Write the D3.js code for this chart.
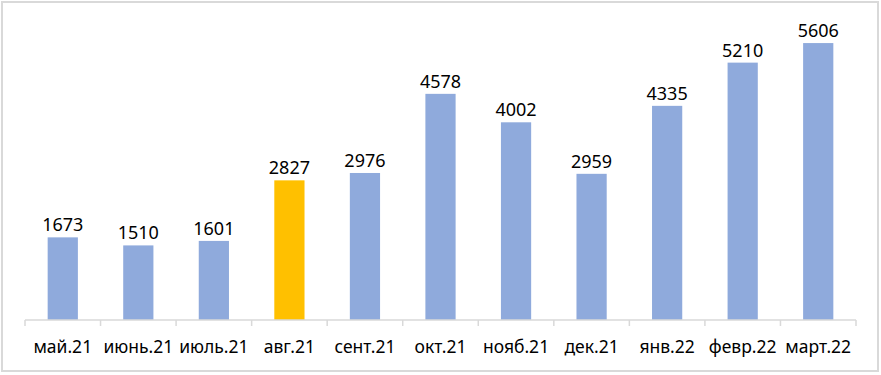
<!DOCTYPE html>
<html>
<head>
<meta charset="utf-8">
<script src="https://cdn.jsdelivr.net/npm/d3@7"></script>
<style>
  body { margin: 0; background: #fff; }
  svg text { font-family: "Noto Sans", "Open Sans", sans-serif; fill: #000; }
</style>
</head>
<body>
<script>
// Data
let months = ["май.21", "июнь.21", "июль.21", "авг.21", "сент.21", "окт.21",
              "нояб.21", "дек.21", "янв.22", "февр.22", "март.22"];
let values = [1673, 1510, 1601, 2827, 2976, 4578, 4002, 2959, 4335, 5210, 5606];
let highlight = ["авг.21"];

let W = 881, H = 375;
let svg = d3.select("body").append("svg")
            .attr("width", W)
            .attr("height", H);

// chart frame
svg.append("rect")
   .attr("x", 2).attr("y", 2)
   .attr("width", 876).attr("height", 369)
   .attr("fill", "#fff")
   .attr("stroke", "#d9d9d9")
   .attr("stroke-width", 2);

let left = 25, right = 856, base = 320;

let x = d3.scaleBand()
          .domain(months)
          .range([left, right])
          .paddingInner(0.6)
          .paddingOuter(0.3);

let y = d3.scaleLinear()
          .domain([0, 6000])
          .range([base, 23.6]);

// bars
svg.append("g")
   .selectAll("rect")
   .data(months)
   .enter()
   .append("rect")
   .attr("x", d => x(d))
   .attr("y", (d, i) => y(values[i]))
   .attr("width", x.bandwidth())
   .attr("height", (d, i) => base - y(values[i]))
   .attr("fill", d => highlight.includes(d) ? "#ffc000" : "#8faadc");

// value labels
svg.append("g")
   .selectAll("text")
   .data(months)
   .enter()
   .append("text")
   .attr("x", d => x(d) + x.bandwidth() / 2)
   .attr("y", (d, i) => y(values[i]) - 6)
   .attr("text-anchor", "middle")
   .attr("font-size", 18)
   .text((d, i) => values[i]);

// axis
let step = (right - left) / months.length;
let axis = svg.append("g").attr("class", "axis");
axis.append("line")
    .attr("x1", left).attr("x2", right)
    .attr("y1", base).attr("y2", base)
    .attr("stroke", "#d9d9d9")
    .attr("stroke-width", 1.5);

axis.selectAll(".tick")
    .data(d3.range(months.length + 1))
    .enter()
    .append("line")
    .attr("x1", i => left + i * step)
    .attr("x2", i => left + i * step)
    .attr("y1", base)
    .attr("y2", base + 6)
    .attr("stroke", "#d9d9d9")
    .attr("stroke-width", 1.5);

axis.selectAll("text")
    .data(months)
    .enter()
    .append("text")
    .attr("x", d => x(d) + x.bandwidth() / 2)
    .attr("y", 353)
    .attr("text-anchor", "middle")
    .attr("font-size", 17.5)
    .text(d => d);
</script>
</body>
</html>
